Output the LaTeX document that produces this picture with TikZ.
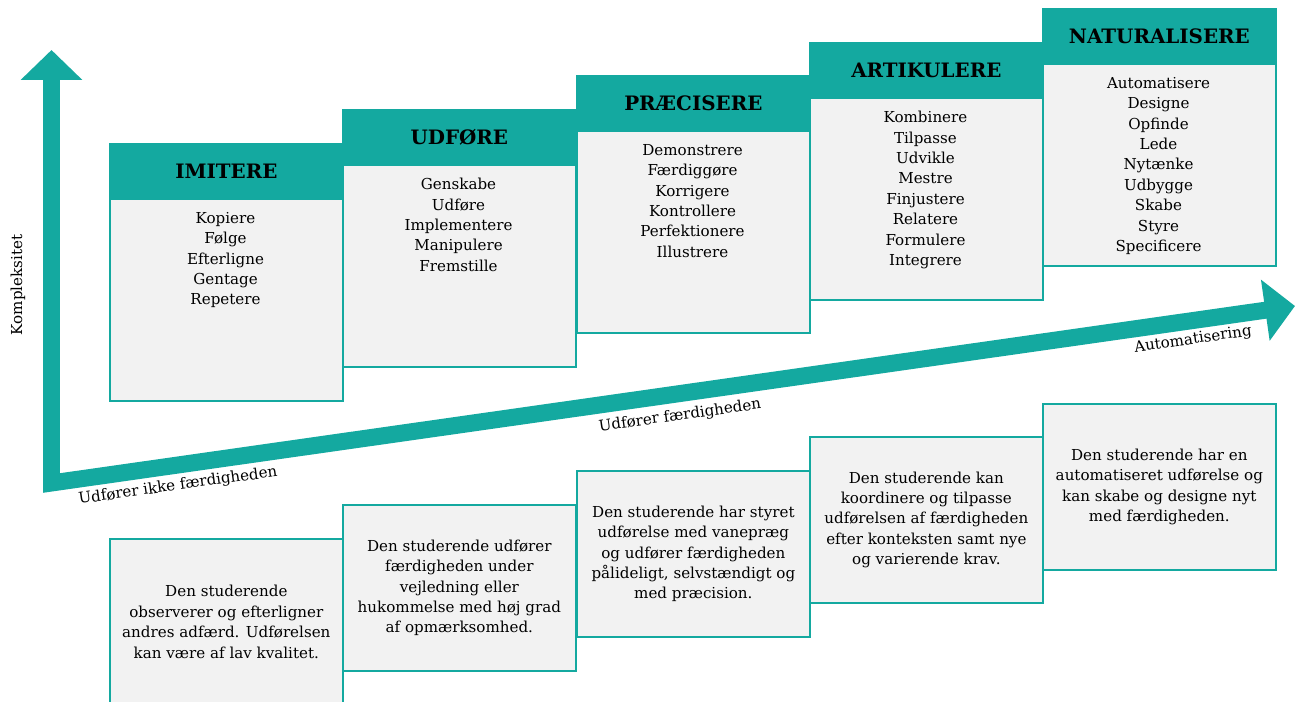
\documentclass[tikz,border=0pt]{standalone}
\usepackage{fontspec}
\setmainfont{DejaVu Serif}
\usetikzlibrary{arrows.meta,positioning}
\definecolor{tealc}{RGB}{20,169,160}
\definecolor{boxgray}{RGB}{242,242,242}
\tikzset{
  head/.style={anchor=north west,fill=tealc,draw=tealc,line width=1pt,minimum width=4.66cm,minimum height=1.1cm,inner sep=0pt,font=\fontsize{11.3}{13}\selectfont\bfseries},
  body/.style={anchor=north west,fill=boxgray,draw=tealc,line width=1pt,minimum width=4.66cm,minimum height=4.04cm},
  verbs/.style={anchor=north,align=center,inner sep=0pt},
  desc/.style={anchor=north west,fill=boxgray,draw=tealc,line width=1pt,minimum width=4.66cm,minimum height=3.32cm,align=center,inner sep=0pt},
  axis/.style={tealc,line width=0.34cm,line join=miter,{Triangle[length=0.6cm,width=1.2cm]}-{Triangle[length=0.6cm,width=1.2cm]}}
}
\begin{document}
\begin{tikzpicture}[x=0.02cm,y=-0.02cm,every node/.style={font=\fontsize{8.6}{11.6}\selectfont,text=black}]
\useasboundingbox (0,0) rectangle (1302,702);
% axes
\coordinate (ytip) at (51.5,50);
\coordinate (origin) at (51.5,483);
\coordinate (xtip) at (1295,306);
\draw[axis] (ytip) -- (origin) -- (xtip);
\node[rotate=90] (kompl) at (18,285) {Kompleksitet};
\node[rotate=8] (ikke) at (178,486) {Udfører ikke færdigheden};
\node[rotate=8] (udf) at (680,416) {Udfører færdigheden};
\node[rotate=8] (auto) at (1193,340) {Automatisering};
% top row
\node[body] (b1) at (109,198) {};
\node[body] (b2) at (342,164) {};
\node[body] (b3) at (576,130) {};
\node[body] (b4) at (809,97) {};
\node[body] (b5) at (1042,63) {};
\node[head] (h1) at (109,143) {IMITERE};
\node[head] (h2) at (342,109) {UDFØRE};
\node[head] (h3) at (576,75) {PRÆCISERE};
\node[head] (h4) at (809,42) {ARTIKULERE};
\node[head] (h5) at (1042,8) {NATURALISERE};
\node[verbs] (v1) at (225.5,212) {Kopiere\\Følge\\Efterligne\\Gentage\\Repetere};
\node[verbs] (v2) at (458.5,178) {Genskabe\\Udføre\\Implementere\\Manipulere\\Fremstille};
\node[verbs] (v3) at (692.5,144) {Demonstrere\\Færdiggøre\\Korrigere\\Kontrollere\\Perfektionere\\Illustrere};
\node[verbs] (v4) at (925.5,111) {Kombinere\\Tilpasse\\Udvikle\\Mestre\\Finjustere\\Relatere\\Formulere\\Integrere};
\node[verbs] (v5) at (1158.5,77) {Automatisere\\Designe\\Opfinde\\Lede\\Nytænke\\Udbygge\\Skabe\\Styre\\Specificere};
% bottom row
\node[desc] (d1) at (109,538) {Den studerende\\observerer og efterligner\\andres adfærd. Udførelsen\\kan være af lav kvalitet.};
\node[desc] (d2) at (342,504) {Den studerende udfører\\færdigheden under\\vejledning eller\\hukommelse med høj grad\\af opmærksomhed.};
\node[desc] (d3) at (576,470) {Den studerende har styret\\udførelse med vanepræg\\og udfører færdigheden\\pålideligt, selvstændigt og\\med præcision.};
\node[desc] (d4) at (809,436) {Den studerende kan\\koordinere og tilpasse\\udførelsen af færdigheden\\efter konteksten samt nye\\og varierende krav.};
\node[desc] (d5) at (1042,403) {Den studerende har en\\automatiseret udførelse og\\kan skabe og designe nyt\\med færdigheden.};
\end{tikzpicture}
\end{document}
